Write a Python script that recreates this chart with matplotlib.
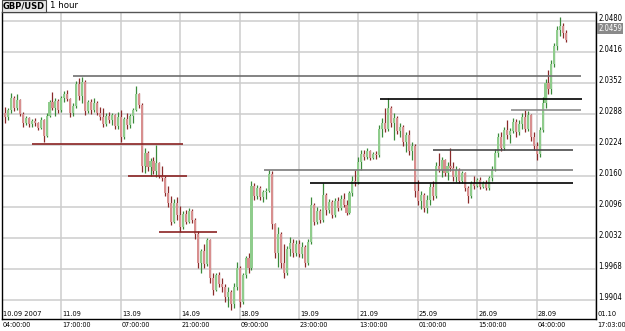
import numpy as np
import matplotlib
matplotlib.use("Agg")
import matplotlib.pyplot as plt
from matplotlib.transforms import blended_transform_factory, offset_copy

# GBP/USD hourly bars (one candle per ~2 hours)
opens = [
    2.0290, 2.0282, 2.0296, 2.0322, 2.0300, 2.0318, 2.0288, 2.0270, 2.0279, 2.0268,
    2.0274, 2.0270, 2.0260, 2.0276, 2.0242, 2.0285, 2.0312, 2.0300, 2.0316, 2.0296,
    2.0322, 2.0330, 2.0320, 2.0290, 2.0305, 2.0350, 2.0325, 2.0355, 2.0295, 2.0312,
    2.0296, 2.0310, 2.0290, 2.0282, 2.0268, 2.0284, 2.0276, 2.0286, 2.0264, 2.0282,
    2.0240, 2.0278, 2.0266, 2.0284, 2.0296, 2.0330, 2.0306, 2.0180, 2.0208, 2.0178,
    2.0192, 2.0170, 2.0186, 2.0160, 2.0156, 2.0124, 2.0104, 2.0066, 2.0104, 2.0080,
    2.0054, 2.0082, 2.0066, 2.0088, 2.0070, 2.0040, 1.9980, 2.0005, 1.9978, 2.0028,
    1.9950, 1.9925, 1.9955, 1.9938, 1.9930, 1.9910, 1.9920, 1.9895, 1.9930, 1.9970,
    1.9900, 1.9955, 1.9990, 1.9970, 2.0140, 2.0118, 2.0136, 2.0116, 2.0126, 2.0130,
    2.0165, 2.0060, 2.0000, 2.0040, 1.9980, 1.9960, 2.0010, 2.0022, 2.0000, 2.0020,
    1.9998, 2.0014, 1.9980, 2.0024, 2.0100, 2.0066, 2.0088, 2.0070, 2.0120, 2.0090,
    2.0106, 2.0080, 2.0108, 2.0094, 2.0112, 2.0100, 2.0084, 2.0124, 2.0150, 2.0148,
    2.0190, 2.0206, 2.0200, 2.0212, 2.0198, 2.0206, 2.0204, 2.0258, 2.0270, 2.0258,
    2.0300, 2.0270, 2.0280, 2.0252, 2.0262, 2.0230, 2.0244, 2.0212, 2.0222, 2.0130,
    2.0108, 2.0120, 2.0094, 2.0110, 2.0138, 2.0118, 2.0180, 2.0172, 2.0194, 2.0166,
    2.0180, 2.0176, 2.0158, 2.0172, 2.0150, 2.0166, 2.0136, 2.0118, 2.0146, 2.0140,
    2.0152, 2.0138, 2.0146, 2.0136, 2.0156, 2.0175, 2.0208, 2.0240, 2.0218, 2.0255,
    2.0244, 2.0254, 2.0272, 2.0250, 2.0268, 2.0282, 2.0258, 2.0286, 2.0240, 2.0222,
    2.0205, 2.0255, 2.0310, 2.0352, 2.0340, 2.0392, 2.0428, 2.0462, 2.0470, 2.0455,
]
highs = [
    2.0303, 2.0300, 2.0331, 2.0326, 2.0330, 2.0320, 2.0292, 2.0284, 2.0282, 2.0278,
    2.0280, 2.0272, 2.0282, 2.0278, 2.0290, 2.0318, 2.0334, 2.0322, 2.0320, 2.0326,
    2.0336, 2.0338, 2.0322, 2.0310, 2.0356, 2.0362, 2.0364, 2.0358, 2.0318, 2.0320,
    2.0322, 2.0316, 2.0302, 2.0300, 2.0290, 2.0292, 2.0290, 2.0288, 2.0292, 2.0296,
    2.0282, 2.0290, 2.0288, 2.0300, 2.0345, 2.0332, 2.0310, 2.0218, 2.0212, 2.0198,
    2.0200, 2.0224, 2.0190, 2.0180, 2.0160, 2.0140, 2.0118, 2.0112, 2.0116, 2.0098,
    2.0088, 2.0090, 2.0094, 2.0092, 2.0074, 2.0046, 2.0010, 2.0020, 2.0032, 2.0030,
    1.9960, 1.9960, 1.9962, 1.9950, 1.9938, 1.9930, 1.9924, 1.9940, 1.9982, 1.9975,
    1.9960, 1.9995, 2.0000, 2.0150, 2.0145, 2.0142, 2.0140, 2.0132, 2.0136, 2.0172,
    2.0170, 2.0062, 2.0054, 2.0045, 2.0020, 2.0015, 2.0034, 2.0030, 2.0028, 2.0027,
    2.0024, 2.0018, 2.0030, 2.0116, 2.0104, 2.0096, 2.0092, 2.0145, 2.0124, 2.0112,
    2.0110, 2.0114, 2.0116, 2.0120, 2.0124, 2.0110, 2.0130, 2.0160, 2.0172, 2.0200,
    2.0213, 2.0214, 2.0217, 2.0214, 2.0210, 2.0212, 2.0265, 2.0280, 2.0300, 2.0321,
    2.0305, 2.0290, 2.0284, 2.0270, 2.0265, 2.0250, 2.0255, 2.0230, 2.0226, 2.0151,
    2.0130, 2.0124, 2.0120, 2.0145, 2.0150, 2.0190, 2.0207, 2.0200, 2.0196, 2.0190,
    2.0217, 2.0188, 2.0180, 2.0176, 2.0170, 2.0168, 2.0140, 2.0150, 2.0160, 2.0156,
    2.0158, 2.0150, 2.0152, 2.0160, 2.0180, 2.0215, 2.0248, 2.0250, 2.0262, 2.0275,
    2.0260, 2.0280, 2.0278, 2.0276, 2.0290, 2.0296, 2.0294, 2.0288, 2.0250, 2.0230,
    2.0262, 2.0323, 2.0360, 2.0378, 2.0400, 2.0434, 2.0470, 2.0488, 2.0476, 2.0462,
]
lows = [
    2.0270, 2.0276, 2.0290, 2.0295, 2.0296, 2.0284, 2.0262, 2.0266, 2.0262, 2.0262,
    2.0264, 2.0255, 2.0258, 2.0230, 2.0240, 2.0282, 2.0296, 2.0284, 2.0290, 2.0293,
    2.0312, 2.0316, 2.0282, 2.0284, 2.0300, 2.0318, 2.0310, 2.0286, 2.0290, 2.0288,
    2.0292, 2.0286, 2.0276, 2.0262, 2.0264, 2.0270, 2.0266, 2.0258, 2.0258, 2.0230,
    2.0236, 2.0258, 2.0260, 2.0270, 2.0294, 2.0300, 2.0168, 2.0166, 2.0170, 2.0160,
    2.0164, 2.0158, 2.0155, 2.0150, 2.0118, 2.0096, 2.0058, 2.0062, 2.0070, 2.0044,
    2.0050, 2.0060, 2.0062, 2.0062, 2.0030, 1.9970, 1.9960, 1.9970, 1.9975, 1.9940,
    1.9914, 1.9922, 1.9930, 1.9920, 1.9900, 1.9890, 1.9883, 1.9888, 1.9925, 1.9890,
    1.9896, 1.9950, 1.9960, 1.9965, 2.0110, 2.0112, 2.0110, 2.0106, 2.0112, 2.0126,
    2.0050, 1.9990, 1.9972, 1.9970, 1.9949, 1.9956, 1.9995, 1.9992, 1.9994, 1.9992,
    1.9990, 1.9972, 1.9976, 2.0020, 2.0058, 2.0060, 2.0062, 2.0066, 2.0080, 2.0084,
    2.0073, 2.0076, 2.0088, 2.0090, 2.0096, 2.0079, 2.0082, 2.0118, 2.0140, 2.0144,
    2.0172, 2.0194, 2.0196, 2.0193, 2.0195, 2.0196, 2.0200, 2.0240, 2.0250, 2.0254,
    2.0262, 2.0234, 2.0246, 2.0240, 2.0222, 2.0210, 2.0203, 2.0193, 2.0116, 2.0100,
    2.0092, 2.0086, 2.0083, 2.0100, 2.0110, 2.0114, 2.0168, 2.0158, 2.0160, 2.0152,
    2.0170, 2.0150, 2.0148, 2.0145, 2.0146, 2.0130, 2.0104, 2.0114, 2.0134, 2.0138,
    2.0134, 2.0135, 2.0131, 2.0132, 2.0150, 2.0170, 2.0200, 2.0212, 2.0214, 2.0236,
    2.0228, 2.0248, 2.0240, 2.0244, 2.0258, 2.0250, 2.0254, 2.0232, 2.0214, 2.0193,
    2.0200, 2.0250, 2.0300, 2.0330, 2.0330, 2.0385, 2.0420, 2.0450, 2.0446, 2.0436,
]
closes = [
    2.0282, 2.0296, 2.0322, 2.0300, 2.0318, 2.0288, 2.0270, 2.0279, 2.0268, 2.0274,
    2.0270, 2.0260, 2.0276, 2.0242, 2.0285, 2.0312, 2.0300, 2.0316, 2.0296, 2.0322,
    2.0330, 2.0320, 2.0290, 2.0305, 2.0350, 2.0325, 2.0355, 2.0295, 2.0312, 2.0296,
    2.0310, 2.0290, 2.0282, 2.0268, 2.0284, 2.0276, 2.0286, 2.0264, 2.0282, 2.0240,
    2.0278, 2.0266, 2.0284, 2.0296, 2.0330, 2.0306, 2.0180, 2.0208, 2.0178, 2.0192,
    2.0170, 2.0186, 2.0160, 2.0156, 2.0124, 2.0104, 2.0066, 2.0104, 2.0080, 2.0054,
    2.0082, 2.0066, 2.0088, 2.0070, 2.0040, 1.9980, 2.0005, 1.9978, 2.0028, 1.9950,
    1.9925, 1.9955, 1.9938, 1.9930, 1.9910, 1.9920, 1.9895, 1.9930, 1.9970, 1.9900,
    1.9955, 1.9990, 1.9970, 2.0140, 2.0118, 2.0136, 2.0116, 2.0126, 2.0130, 2.0165,
    2.0060, 2.0000, 2.0040, 1.9980, 1.9960, 2.0010, 2.0022, 2.0000, 2.0020, 1.9998,
    2.0014, 1.9980, 2.0024, 2.0100, 2.0066, 2.0088, 2.0070, 2.0120, 2.0090, 2.0106,
    2.0080, 2.0108, 2.0094, 2.0112, 2.0100, 2.0084, 2.0124, 2.0150, 2.0148, 2.0190,
    2.0206, 2.0200, 2.0212, 2.0198, 2.0206, 2.0204, 2.0258, 2.0270, 2.0258, 2.0300,
    2.0270, 2.0280, 2.0252, 2.0262, 2.0230, 2.0244, 2.0212, 2.0222, 2.0130, 2.0108,
    2.0120, 2.0094, 2.0110, 2.0138, 2.0118, 2.0180, 2.0172, 2.0194, 2.0166, 2.0180,
    2.0176, 2.0158, 2.0172, 2.0150, 2.0166, 2.0136, 2.0118, 2.0146, 2.0140, 2.0152,
    2.0138, 2.0146, 2.0136, 2.0156, 2.0175, 2.0208, 2.0240, 2.0218, 2.0255, 2.0244,
    2.0254, 2.0272, 2.0250, 2.0268, 2.0282, 2.0258, 2.0286, 2.0240, 2.0222, 2.0205,
    2.0255, 2.0310, 2.0352, 2.0340, 2.0392, 2.0428, 2.0462, 2.0470, 2.0455, 2.0442,
]

# support / resistance lines: price, first bar, last bar
level_prices = [2.0367, 2.0320, 2.0296, 2.0213, 2.0172, 2.0145, 2.0227, 2.0160, 2.0044]
level_start = [24, 127.3, 171.3, 145, 88.2, 103.7, 10.1, 42.4, 52.9]
level_end = [195, 195.3, 195, 192.3, 192.3, 192.3, 61, 62.3, 72.4]
level_colors = ['#6e6e6e', '#000000', '#8c8c8c', '#4a4a4a', '#7a7a7a', '#000000',
                '#8b2323', '#8b2323', '#8b2323']

price_ticks = [2.0480, 2.0416, 2.0352, 2.0288, 2.0224, 2.0160, 2.0096, 2.0032, 1.9968, 1.9904]
last_price = 2.0459
dates = ["10.09 2007", "11.09", "13.09", "14.09", "18.09", "19.09",
         "21.09", "25.09", "26.09", "28.09", "01.10"]
times = ["04:00:00", "17:00:00", "07:00:00", "21:00:00", "09:00:00", "23:00:00",
         "13:00:00", "01:00:00", "15:00:00", "04:00:00", "17:03:00"]

o = np.array(opens)
h = np.array(highs)
l = np.array(lows)
c = np.array(closes)
x = np.arange(1, len(c) + 1)
up = c >= o

fig = plt.figure(figsize=(6.25, 3.31), dpi=100)
ax = fig.add_axes([2 / 625, 12.3 / 331, 594 / 625, 306.4 / 331])
ax.set_xlim(0, 200)
ax.set_ylim(1.98653, 2.04982)

ax.set_xticks(np.arange(0, 201, 20))
ax.set_yticks(price_ticks)
ax.grid(True, color='#cdcdcd', lw=1.1)
ax.set_axisbelow(True)
ax.tick_params(length=0, labelbottom=False, labelleft=False)
for s in ax.spines.values():
    s.set_color('black')
    s.set_linewidth(1.0)
ax.spines['top'].set_color('#555555')

# candles
wick_col = np.where(up, '#3a8a3a', '#8a2a2a')
body_col = np.where(up, '#8fcc8c', '#d88f8f')
ax.vlines(x, l, h, colors=wick_col, lw=0.9, zorder=3)
body = np.maximum(np.abs(c - o), 0.00005)
ax.bar(x, body, bottom=np.minimum(o, c), width=0.7, color=body_col,
       edgecolor='none', zorder=4)

for p, a, b, col in zip(level_prices, level_start, level_end, level_colors):
    ax.hlines(p, a, b, colors=col, lw=1.2, zorder=5)

# right price scale
ytrans = blended_transform_factory(ax.transAxes, ax.transData)
ylab = offset_copy(ytrans, fig=fig, x=2, y=2.5, units='dots')
for p in price_ticks:
    ax.text(1.0, p, f"{p:.4f}", transform=ylab, ha='left', va='center',
            fontsize=5.5, fontstretch='condensed', clip_on=False)
ax.text(1.0, last_price, f"{last_price:.4f}", transform=ylab, ha='left', va='center',
        fontsize=5.5, color='white', fontstretch='condensed', clip_on=False,
        bbox=dict(facecolor='#8a8a8a', edgecolor='none', pad=0.6))

# time scale: date inside the plot, time below it
xtrans = blended_transform_factory(ax.transData, ax.transAxes)
xlab = offset_copy(xtrans, fig=fig, x=1, y=0, units='dots')
for i, (d, t) in enumerate(zip(dates, times)):
    ax.text(i * 20, 0.006, d, transform=xlab, ha='left', va='bottom',
            fontsize=5.3, fontstretch='condensed', clip_on=False)
    ax.text(i * 20, -0.012, t, transform=xlab, ha='left', va='top',
            fontsize=5.1, fontstretch='condensed', clip_on=False)

fig.text(3 / 625, 1 - 6 / 331, "GBP/USD", ha='left', va='center', fontsize=6.0,
         fontweight='bold', bbox=dict(facecolor='#e8e8e8', edgecolor='#444444',
                                      lw=0.8, pad=0.8))
fig.text(50 / 625, 1 - 6 / 331, "1 hour", ha='left', va='center', fontsize=6.2)

fig.savefig("out.png", dpi=100)
